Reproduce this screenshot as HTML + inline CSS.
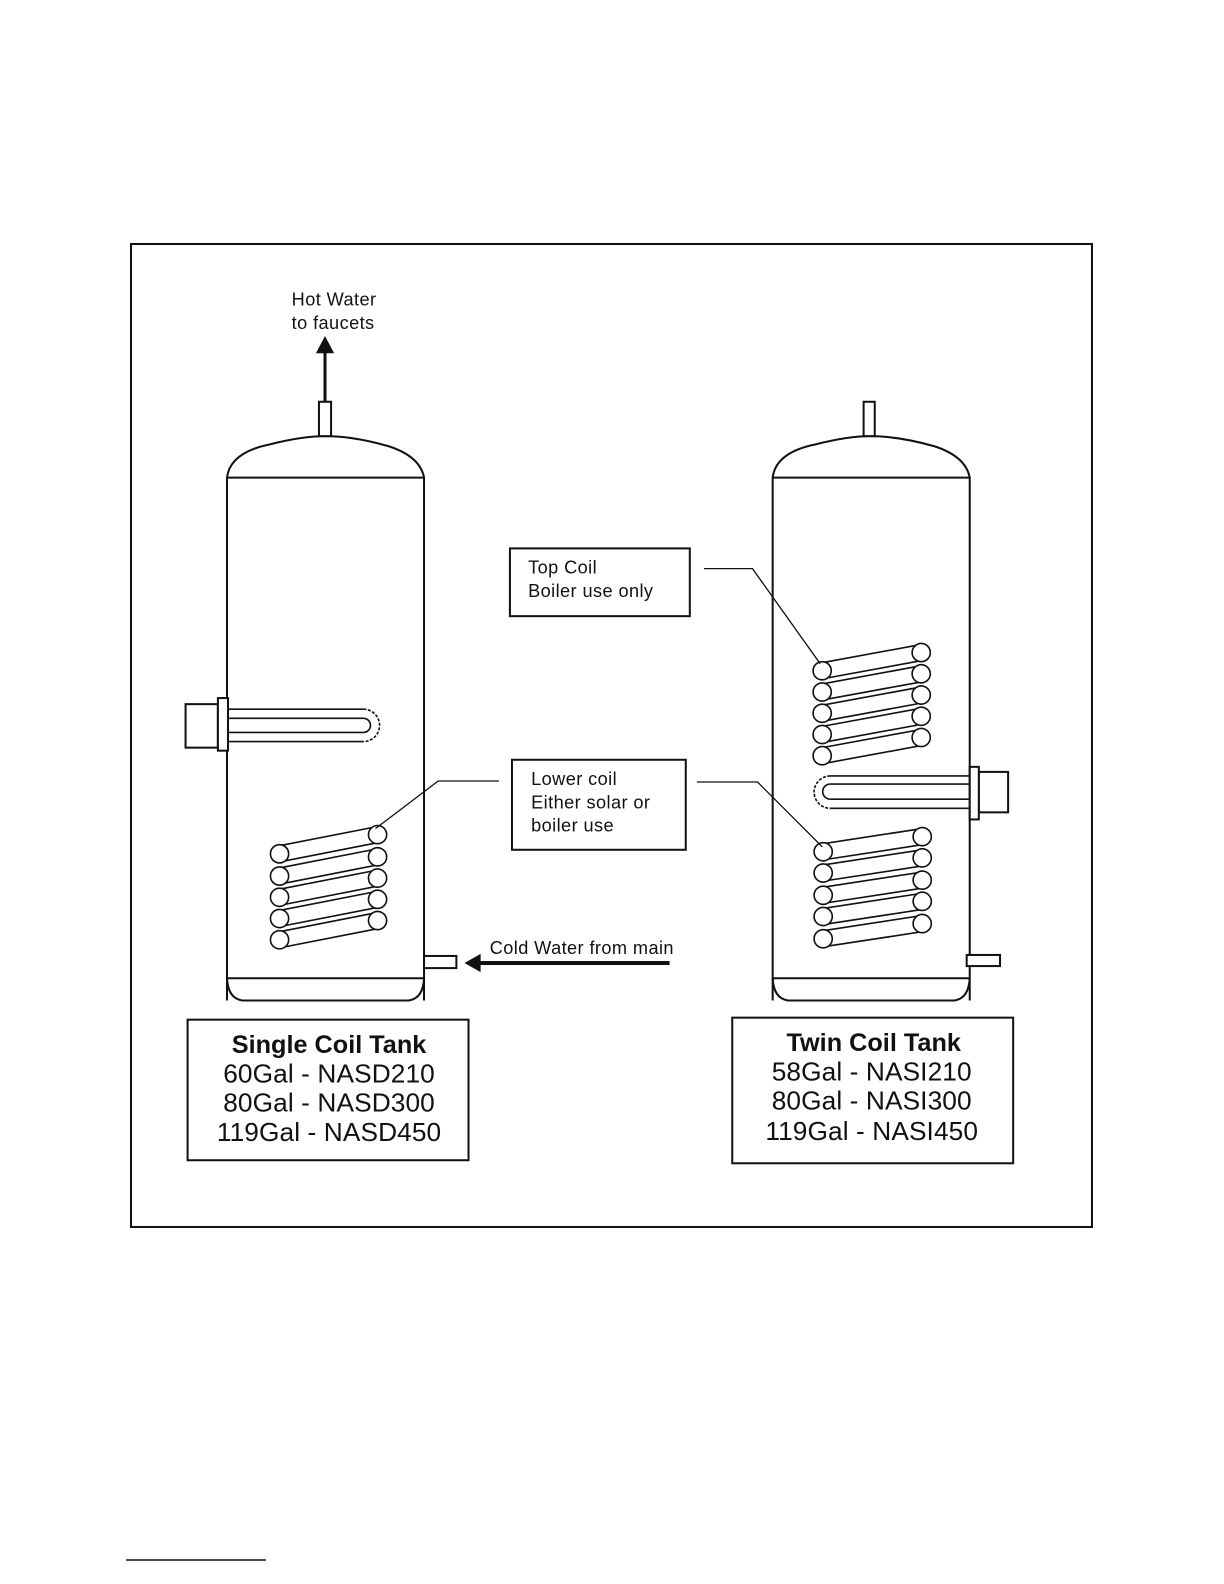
<!DOCTYPE html>
<html><head><meta charset="utf-8"><style>
html,body{margin:0;padding:0;background:#fff;}
svg{display:block;}
text{font-family:"Liberation Sans",Arial,sans-serif;fill:#111;}
.s{font-size:18px;letter-spacing:0.4px;}
.t{font-size:25px;font-weight:bold;letter-spacing:0px;}
.l{font-size:26px;letter-spacing:0.1px;}
</style></head><body>
<svg width="1224" height="1584" viewBox="0 0 1224 1584" xmlns="http://www.w3.org/2000/svg">
<defs>
<g id="tl" fill="#fff" stroke="#111" stroke-width="1.6">
  <line x1="0" y1="-8" x2="97" y2="-27"/><line x1="0" y1="8" x2="97" y2="-11"/>
  <circle cx="0" cy="0" r="9"/><circle cx="97" cy="-19" r="9"/>
</g>
<g id="tr" fill="#fff" stroke="#111" stroke-width="1.6">
  <line x1="0" y1="-8" x2="98" y2="-26"/><line x1="0" y1="8" x2="98" y2="-10"/>
  <circle cx="0" cy="0" r="9"/><circle cx="98" cy="-18" r="9"/>
</g>
<g id="tr2" fill="#fff" stroke="#111" stroke-width="1.6">
  <line x1="0" y1="-8" x2="98" y2="-23"/><line x1="0" y1="8" x2="98" y2="-7"/>
  <circle cx="0" cy="0" r="9"/><circle cx="98" cy="-15" r="9"/>
</g>
</defs>
<g transform="translate(131,244) scale(1.0105,1.0113) translate(-130,-242)">
<rect x="130" y="242" width="951" height="972" fill="none" stroke="#111" stroke-width="2"/>

<!-- LEFT TANK -->
<g fill="none" stroke="#111" stroke-width="2">
  <path d="M225,990 L225,473 Q228,448 268,440 Q300,432 322,432 Q350,432 385,442 Q416,452 420,473 L420,990"/>
  <line x1="225" y1="473" x2="420" y2="473"/>
  <line x1="225" y1="968" x2="420" y2="968"/>
  <path d="M225,968 Q226,988 240,990 L405,990 Q419,988 420,968"/>
  <rect x="316" y="398" width="12" height="34" fill="#fff"/>
  <line x1="322" y1="398" x2="322" y2="348" stroke-width="3"/>
  <rect x="184" y="697" width="32" height="43" fill="#fff"/>
  <rect x="216" y="691" width="10" height="52" fill="#fff"/>
  <g stroke-width="1.6">
  <line x1="226" y1="702" x2="360" y2="702"/><line x1="226" y1="711" x2="360" y2="711"/>
  <line x1="226" y1="725" x2="360" y2="725"/><line x1="226" y1="734" x2="360" y2="734"/>
  <path d="M360,702 A16,16 0 0 1 360,734" stroke-dasharray="3,1.5"/>
  <path d="M360,711 A7,7 0 0 1 360,725"/>
  </g>
  <rect x="420" y="946" width="32" height="12" fill="#fff"/>
  <line x1="663" y1="953" x2="475" y2="953" stroke-width="4"/>
</g>
<polygon points="313,350 322,333 331,350" fill="#111"/>
<polygon points="460,953 476,944 476,962" fill="#111"/>
<use href="#tl" x="277" y="845"/><use href="#tl" x="277" y="867"/><use href="#tl" x="277" y="888"/><use href="#tl" x="277" y="909"/><use href="#tl" x="277" y="930"/>
<polyline points="372,820 434,773 494,773" fill="none" stroke="#111" stroke-width="1.3"/>

<!-- RIGHT TANK -->
<g fill="none" stroke="#111" stroke-width="2">
  <path d="M765,990 L765,473 Q768,448 808,440 Q840,432 861,432 Q890,432 925,442 Q956,452 960,473 L960,990"/>
  <line x1="765" y1="473" x2="960" y2="473"/>
  <line x1="765" y1="968" x2="960" y2="968"/>
  <path d="M765,968 Q766,988 780,990 L945,990 Q959,988 960,968"/>
  <rect x="855" y="398" width="11" height="34" fill="#fff"/>
  <rect x="969" y="764" width="29" height="40" fill="#fff"/>
  <rect x="960" y="759" width="9" height="52" fill="#fff"/>
  <g stroke-width="1.6">
  <line x1="822" y1="768" x2="960" y2="768"/><line x1="822" y1="776" x2="960" y2="776"/>
  <line x1="822" y1="791" x2="960" y2="791"/><line x1="822" y1="800" x2="960" y2="800"/>
  <path d="M822,768 A16,16 0 0 0 822,800" stroke-dasharray="3,1.5"/>
  <path d="M822,776 A7.5,7.5 0 0 0 822,791"/>
  </g>
  <rect x="957" y="945" width="33" height="11" fill="#fff"/>
</g>
<use href="#tr" x="814" y="664"/><use href="#tr" x="814" y="685"/><use href="#tr" x="814" y="706"/><use href="#tr" x="814" y="727"/><use href="#tr" x="814" y="748"/>
<use href="#tr2" x="815" y="843"/><use href="#tr2" x="815" y="864"/><use href="#tr2" x="815" y="886"/><use href="#tr2" x="815" y="907"/><use href="#tr2" x="815" y="929"/>
<polyline points="697,563 745,563 812,657" fill="none" stroke="#111" stroke-width="1.3"/>
<polyline points="690,774 750,774 814,838" fill="none" stroke="#111" stroke-width="1.3"/>

<rect x="505" y="543" width="178" height="67" fill="#fff" stroke="#111" stroke-width="2"/>
<text class="s" x="523" y="568">Top Coil</text>
<text class="s" x="523" y="591">Boiler use only</text>
<rect x="507" y="752" width="172" height="89" fill="#fff" stroke="#111" stroke-width="2"/>
<text class="s" x="526" y="777">Lower coil</text>
<text class="s" x="526" y="800">Either solar or</text>
<text class="s" x="526" y="823">boiler use</text>

<text class="s" x="289" y="303">Hot Water</text>
<text class="s" x="289" y="326">to faucets</text>
<text class="s" x="485" y="944">Cold Water from main</text>

<rect x="186" y="1009" width="278" height="139" fill="#fff" stroke="#111" stroke-width="2"/>
<text class="t" x="326" y="1042" text-anchor="middle">Single Coil Tank</text>
<text class="l" x="326" y="1071" text-anchor="middle">60Gal - NASD210</text>
<text class="l" x="326" y="1100" text-anchor="middle">80Gal - NASD300</text>
<text class="l" x="326" y="1129" text-anchor="middle">119Gal - NASD450</text>

<rect x="725" y="1007" width="278" height="144" fill="#fff" stroke="#111" stroke-width="2"/>
<text class="t" x="865" y="1040" text-anchor="middle">Twin Coil Tank</text>
<text class="l" x="863" y="1069" text-anchor="middle">58Gal - NASI210</text>
<text class="l" x="863" y="1098" text-anchor="middle">80Gal - NASI300</text>
<text class="l" x="863" y="1128" text-anchor="middle">119Gal - NASI450</text>
</g>
<line x1="126" y1="1560" x2="266" y2="1560" stroke="#111" stroke-width="1.5"/>
</svg>
</body></html>
